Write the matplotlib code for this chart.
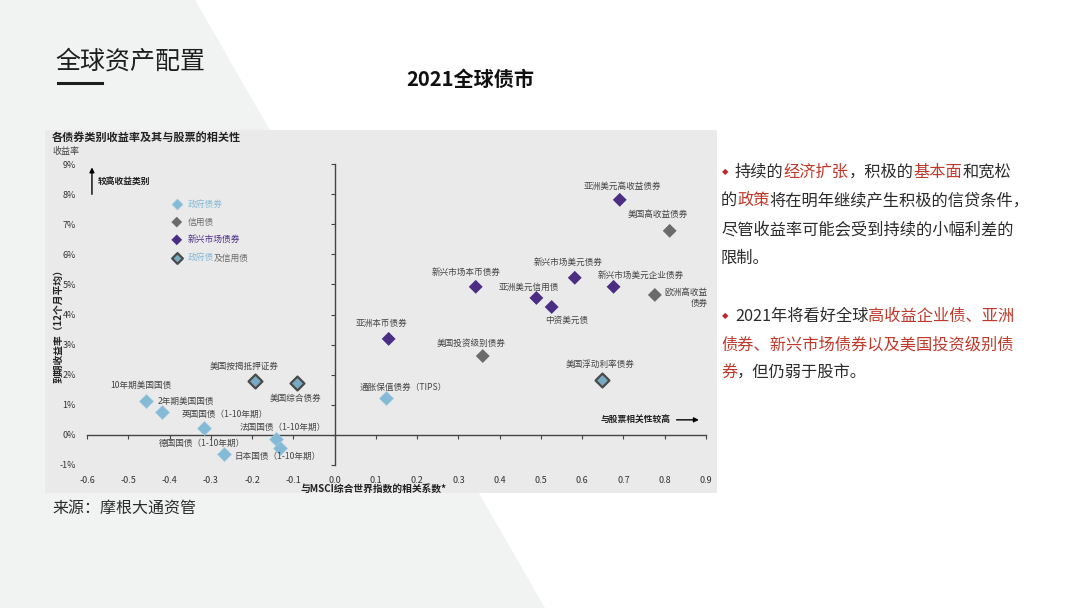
import numpy as np
import matplotlib
matplotlib.use("Agg")
import matplotlib.pyplot as plt
from matplotlib.patches import Polygon, Rectangle
from matplotlib import font_manager
from matplotlib.ft2font import FT2Font

plt.rcParams['font.family'] = ['Noto Sans CJK SC', 'DejaVu Sans']

# -----------------------------
# 数据
# -----------------------------
gov_names = ["10年期美国国债", "2年期美国国债", "英国国债（1-10年期）", "德国国债（1-10年期）",
             "法国国债（1-10年期）", "日本国债（1-10年期）", "通胀保值债券（TIPS）"]
gov_x = [-0.456, -0.419, -0.317, -0.267, -0.141, -0.133, 0.124]
gov_y = [1.13, 0.76, 0.23, -0.63, -0.13, -0.43, 1.23]

credit_names = ["美国高收益债券", "欧洲高收益\n债券", "美国投资级别债券"]
credit_x = [0.812, 0.776, 0.359]
credit_y = [6.78, 4.65, 2.62]

em_names = ["亚洲美元高收益债券", "新兴市场本币债券", "新兴市场美元债券", "新兴市场美元企业债券",
            "亚洲美元信用债", "中资美元债", "亚洲本币债券"]
em_x = [0.691, 0.342, 0.582, 0.676, 0.489, 0.526, 0.131]
em_y = [7.81, 4.92, 5.22, 4.92, 4.55, 4.25, 3.19]

mix_names = ["美国按揭抵押证券", "美国综合债券", "美国浮动利率债券"]
mix_x = [-0.194, -0.092, 0.649]
mix_y = [1.79, 1.73, 1.83]

x_ticks = [-0.6, -0.5, -0.4, -0.3, -0.2, -0.1, 0.0, 0.1, 0.2, 0.3, 0.4, 0.5, 0.6, 0.7, 0.8, 0.9]
y_ticks = [-1, 0, 1, 2, 3, 4, 5, 6, 7, 8, 9]

# -----------------------------
# 颜色
# -----------------------------
C_GOV = "#84bad6"
C_CREDIT = "#6b6b6b"
C_EM = "#4b2d84"
C_MIX = "#78aac2"
C_LABEL = "#444444"
C_RED = "#c0392b"
C_TXT = "#2b2b2b"

W, H = 1080, 608
fig = plt.figure(figsize=(W / 100, H / 100), dpi=100)
fig.patch.set_facecolor("white")

def fx(px):
    return px / W

def fy(py):
    return 1 - py / H

# 背景斜块
fig.patches.append(Polygon([(0, 1), (fx(195), 1), (fx(545), 0), (0, 0)],
                           closed=True, transform=fig.transFigure,
                           facecolor="#f1f2f2", edgecolor="none", zorder=-5))
# 图片底板
fig.patches.append(Rectangle((fx(45), fy(493)), fx(717) - fx(45), fy(130) - fy(493),
                             transform=fig.transFigure, facecolor="#eaeaea",
                             edgecolor="none", zorder=-4))

# 标题
fig.text(fx(55), fy(62), "全球资产配置", fontsize=18, color="#1e1e1e", va="center", ha="left")
fig.add_artist(plt.Line2D([fx(58), fx(102)], [fy(83), fy(83)], color="#1e1e1e", lw=2.2))
fig.text(fx(470), fy(79), "2021全球债市", fontsize=14.5, fontweight="bold",
         color="#111111", va="center", ha="center")
fig.text(fx(52), fy(508), "来源：摩根大通资管", fontsize=11.5, color=C_TXT, va="center", ha="left")

# -----------------------------
# 散点图
# -----------------------------
rect = [fx(87), fy(465), fx(706) - fx(87), fy(164) - fy(465)]
ax = fig.add_axes(rect)
ax.set_facecolor("none")
ax.set_xlim(-0.6, 0.9)
ax.set_ylim(-1, 9)
ax.set_xticks(x_ticks)
ax.set_yticks(y_ticks)
ax.set_xticklabels([f"{v:.1f}" for v in x_ticks])
ax.set_yticklabels([f"{v}%" for v in y_ticks])
ax.tick_params(length=0, labelsize=6.5, labelcolor="#333333")
ax.tick_params(axis="x", pad=8)
ax.tick_params(axis="y", pad=8)
for s in ax.spines.values():
    s.set_visible(False)

# 零轴
ax0 = fig.add_axes(rect, sharex=ax, sharey=ax)
ax0.patch.set_visible(False)
ax0.spines["left"].set_position(("data", 0))
ax0.spines["bottom"].set_position(("data", 0))
ax0.spines["top"].set_visible(False)
ax0.spines["right"].set_visible(False)
for k in ["left", "bottom"]:
    ax0.spines[k].set_color("#444444")
    ax0.spines[k].set_linewidth(1.0)
ax0.tick_params(labelleft=False, labelbottom=False, length=3, width=0.8,
                color="#444444", direction="out")
ax0.set_zorder(-1)

ms = 50
ax.scatter(gov_x, gov_y, marker="D", s=ms, color=C_GOV, edgecolor="#9cc9e0", lw=0.5, zorder=3)
ax.scatter(credit_x, credit_y, marker="D", s=ms, color=C_CREDIT, edgecolor="none", zorder=3)
ax.scatter(em_x, em_y, marker="D", s=ms, color=C_EM, edgecolor="none", zorder=3)
ax.scatter(mix_x, mix_y, marker="D", s=ms, color=C_MIX, edgecolor="#4a4a4a", lw=1.6, zorder=3)

# 标注偏移（像素）
label_offsets = {
    "10年期美国国债": (-6, 15, "center"),
    "2年期美国国债": (-4, 11, "left"),
    "英国国债（1-10年期）": (21, 14, "center"),
    "德国国债（1-10年期）": (-23, 10, "center"),
    "法国国债（1-10年期）": (6, 11, "center"),
    "日本国债（1-10年期）": (-2, -9, "center"),
    "通胀保值债券（TIPS）": (17, 11, "center"),
    "美国按揭抵押证券": (-10, 15, "center"),
    "美国综合债券": (-1, -16, "center"),
    "美国浮动利率债券": (-2, 15, "center"),
    "美国投资级别债券": (-12, 13, "center"),
    "美国高收益债券": (-12, 16, "center"),
    "欧洲高收益\n债券": (10, -3, "left"),
    "亚洲美元高收益债券": (3, 13, "center"),
    "新兴市场本币债券": (-10, 14, "center"),
    "新兴市场美元债券": (-7, 15, "center"),
    "新兴市场美元企业债券": (27, 11, "center"),
    "亚洲美元信用债": (-8, 11, "center"),
    "中资美元债": (15, -13, "center"),
    "亚洲本币债券": (-7, 15, "center"),
}

for names, xs, ys in [(gov_names, gov_x, gov_y), (credit_names, credit_x, credit_y),
                      (em_names, em_x, em_y), (mix_names, mix_x, mix_y)]:
    for n, x, y in zip(names, xs, ys):
        dx, dy, ha = label_offsets[n]
        ax.annotate(n, (x, y), xytext=(dx, dy), textcoords="offset pixels",
                    ha=ha, va="center", fontsize=6.2, color=C_LABEL,
                    multialignment="right", linespacing=1.3)

# 图例
leg = [("政府债券", C_GOV, "#9cc9e0", 0.5),
       ("信用债", C_CREDIT, "none", 0),
       ("新兴市场债券", C_EM, "none", 0),
       ("政府债", C_MIX, "#4a4a4a", 1.6)]
ly = [0.867, 0.807, 0.748, 0.688]
for (lab, fc, ec, lw), yy in zip(leg, ly):
    ax.scatter([0.145], [yy], marker="D", s=30, color=fc, edgecolor=ec, lw=lw,
               transform=ax.transAxes, clip_on=False, zorder=3)
    t = ax.text(0.162, yy, lab, transform=ax.transAxes, fontsize=6.3,
                color=fc if lab != "政府债" else C_GOV, va="center", ha="left")
ax.annotate("及信用债", xy=(1, 0.5), xycoords=t, ha="left", va="center",
            fontsize=6.3, color=C_CREDIT)

# 方向箭头
ax.annotate("", xy=(0.008, 0.998), xytext=(0.008, 0.89), xycoords="axes fraction",
            arrowprops=dict(arrowstyle="-|>", color="black", lw=1, mutation_scale=7))
ax.text(0.018, 0.94, "较高收益类别", transform=ax.transAxes, fontsize=6.3,
        fontweight="bold", color="#222222", va="center", ha="left")
ax.annotate("", xy=(0.993, 0.15), xytext=(0.948, 0.15), xycoords="axes fraction",
            arrowprops=dict(arrowstyle="-|>", color="black", lw=1, mutation_scale=7))
ax.text(0.942, 0.15, "与股票相关性较高", transform=ax.transAxes, fontsize=6.3,
        fontweight="bold", color="#222222", va="center", ha="right")

# 图内标题与轴标题
fig.text(fx(52), fy(138), "各债券类别收益率及其与股票的相关性", fontsize=8,
         fontweight="bold", color="#222222", va="center", ha="left")
fig.text(fx(52), fy(151), "收益率", fontsize=6.5, color="#444444", va="center", ha="left")
fig.text(fx(58), fy(324), "到期收益率（12个月平均）", fontsize=7, fontweight="bold",
         color="#222222", va="center", ha="center", rotation=90)
fig.text(fx(374), fy(489), "与MSCI综合世界指数的相关系数*", fontsize=7, fontweight="bold",
         color="#222222", va="center", ha="center")

# -----------------------------
# 右侧文字
# -----------------------------
BODY_SIZE = 11.7
font_file = font_manager.findfont(font_manager.FontProperties(family="Noto Sans CJK SC"))
ft = FT2Font(font_file)
ft.set_size(BODY_SIZE, 100)

def advance(s):
    return sum(ft.load_char(ord(c)).linearHoriAdvance / 65536 for c in s)

para1 = [
    [("持续的", C_TXT), ("经济扩张", C_RED), ("，积极的", C_TXT),
     ("基本面", C_RED), ("和宽松", C_TXT)],
    [("的", C_TXT), ("政策", C_RED), ("将在明年继续产生积极的信贷条件，", C_TXT)],
    [("尽管收益率可能会受到持续的小幅利差的", C_TXT)],
    [("限制。", C_TXT)],
]
para2 = [
    [("2021年将看好全球", C_TXT), ("高收益企业债、亚洲", C_RED)],
    [("债券、新兴市场债券以及美国投资级别债", C_RED)],
    [("券", C_RED), ("，但仍弱于股市。", C_TXT)],
]

def draw_line(y, parts, x0):
    x = x0
    for txt, col in parts:
        fig.text(fx(x), fy(y), txt, fontsize=BODY_SIZE, color=col, va="center", ha="left")
        x += advance(txt)

for para, y0 in [(para1, 172), (para2, 316)]:
    fig.text(fx(722), fy(y0), "◆", fontsize=6, color="#c0242b",
             va="center", ha="left", family=["DejaVu Sans"])
    for i, parts in enumerate(para):
        draw_line(y0 + i * 28.8, parts, 735 if i == 0 else 721)

fig.savefig("out.png", dpi=100)
